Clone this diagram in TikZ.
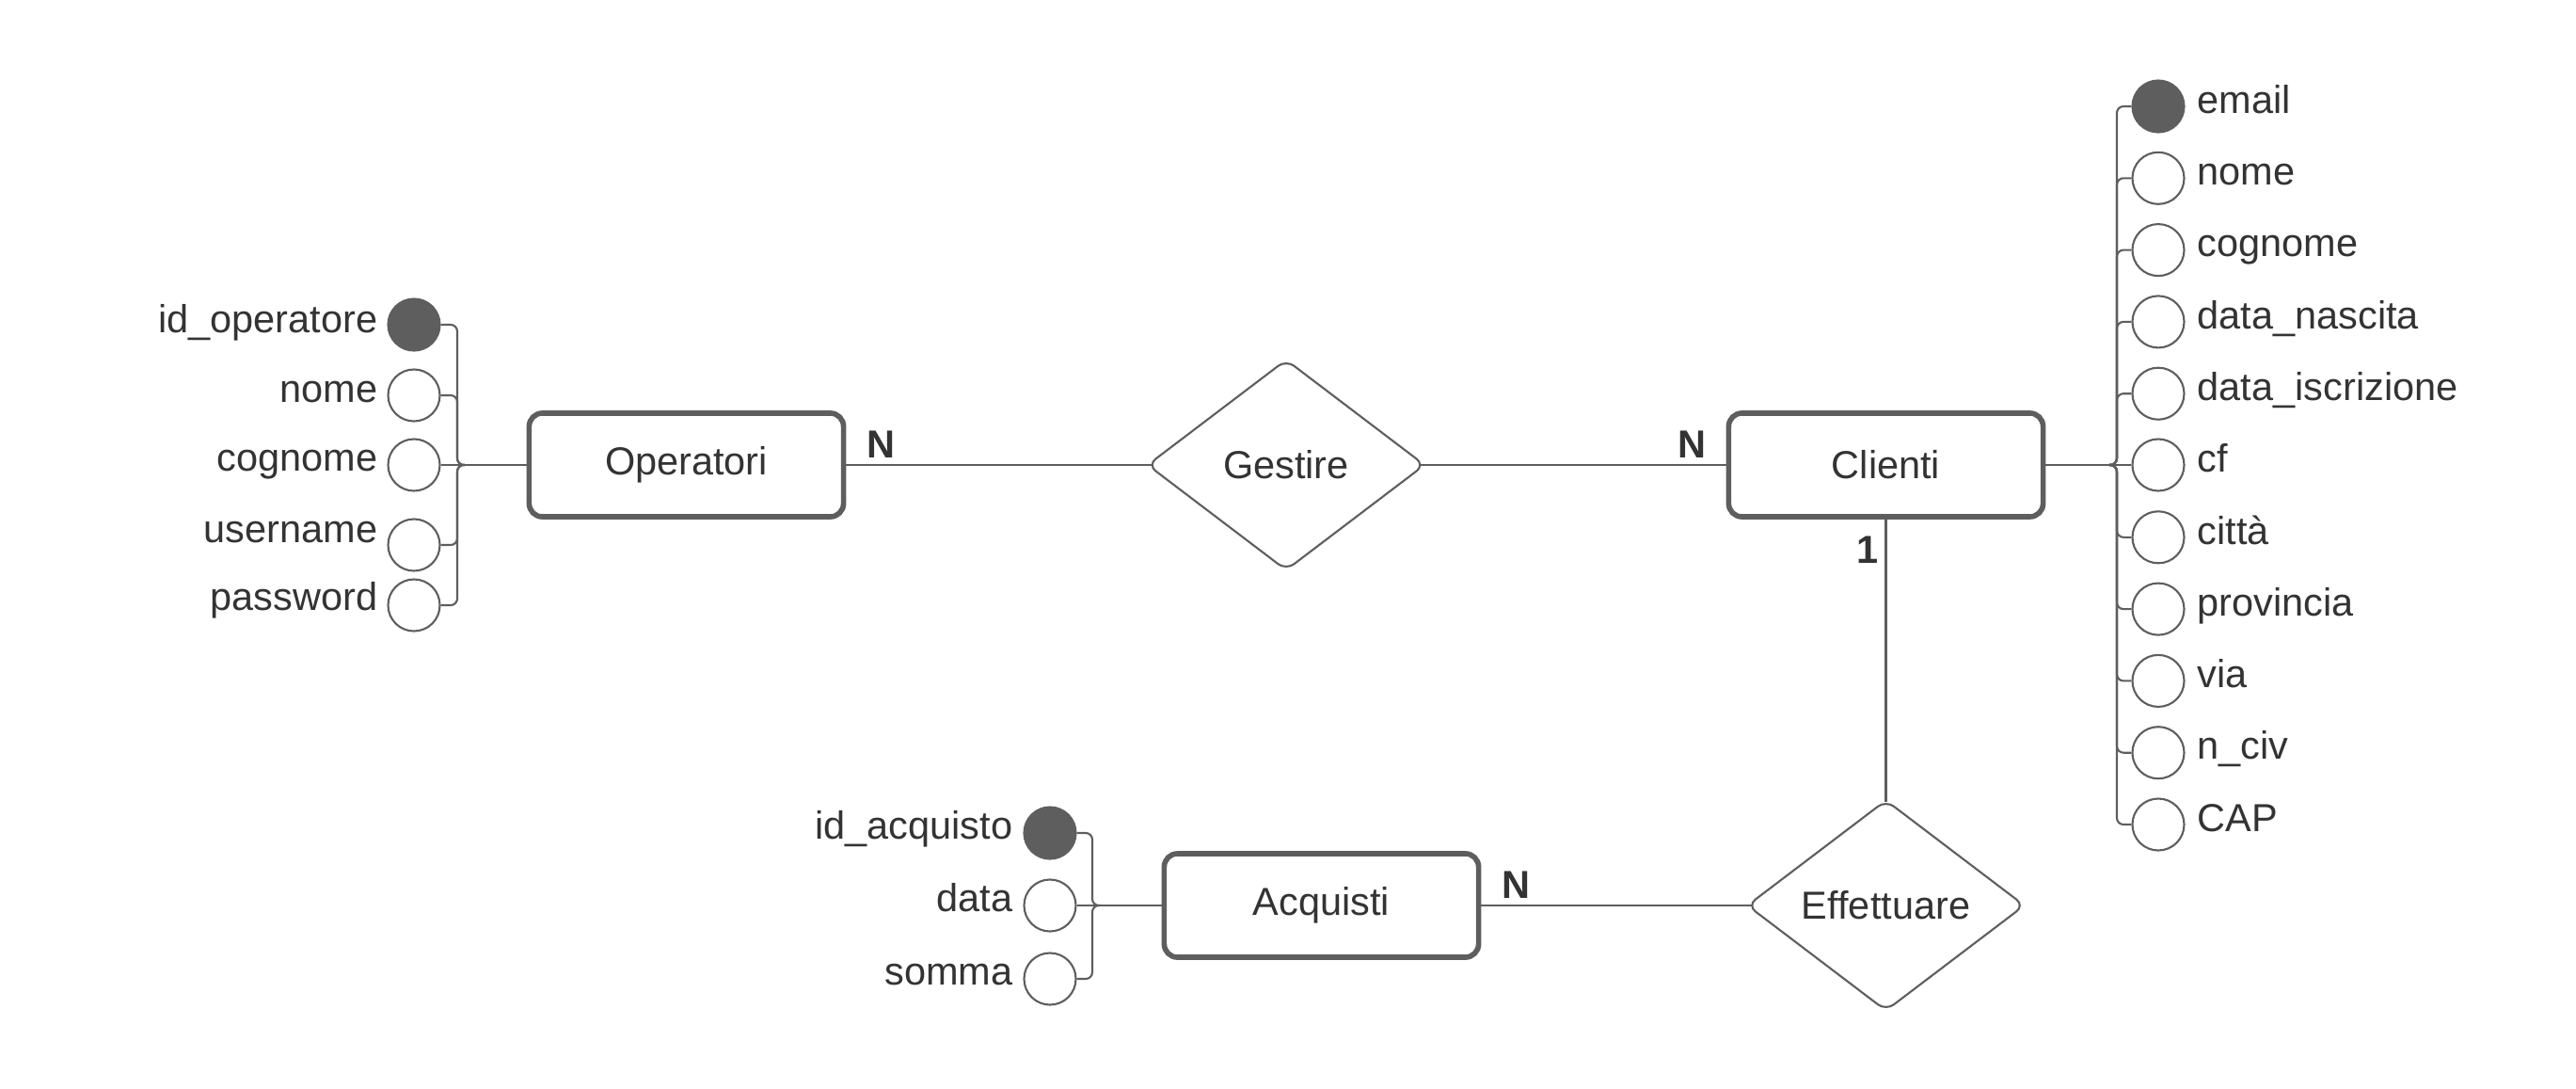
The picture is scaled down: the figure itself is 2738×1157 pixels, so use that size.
\documentclass[tikz,border=0pt]{standalone}
\usepackage{fontspec}
\setmainfont{Liberation Sans}
\usetikzlibrary{shapes.geometric}
\definecolor{lineGray}{HTML}{5E5E5E}
\definecolor{textGray}{HTML}{333333}
\tikzset{
	entity/.style={draw=lineGray, line width=1.6pt, rounded corners=4pt, minimum width=3.34cm, minimum height=1.10cm, inner sep=0, text=textGray, font=\fontsize{11.8}{14}\selectfont},
	relation/.style={diamond, aspect=1.33, draw=lineGray, line width=0.6pt, rounded corners=3pt, minimum width=2.95cm, minimum height=2.24cm, inner sep=0, text=textGray, font=\fontsize{11.8}{14}\selectfont},
	attr/.style={circle, draw=lineGray, line width=0.6pt, minimum size=0.55cm, inner sep=0},
	pkattr/.style={attr, fill=lineGray},
	attrtext/.style={inner sep=0, text=textGray, font=\fontsize{11.8}{14}\selectfont},
	card/.style={inner sep=0, text=textGray, font=\fontsize{11.8}{14}\selectfont\bfseries},
	conn/.style={draw=lineGray, line width=0.6pt},
	attrlink/.style={conn, rounded corners=0.07cm}
}
\begin{document}
\begin{tikzpicture}[x=0.01cm,y=-0.01cm]
		\useasboundingbox (0,0) rectangle (2738,1157);
		% entities and relations
		\node[entity] (opr) at (729.5,494) {Operatori};
		\node[entity] (clienti) at (2004.5,494) {Clienti};
		\node[entity] (acquisti) at (1404.5,962) {Acquisti};
		\node[relation] (gestire) at (1367,494) {Gestire};
		\node[relation] (effettuare) at (2004.5,962) {Effettuare};
		\draw[conn, shorten >=-1.6pt] (opr) -- (gestire);
		\draw[conn, shorten <=-1.6pt] (gestire) -- (clienti);
		\draw[conn, shorten >=-1pt] (clienti) -- (effettuare);
		\draw[conn, shorten <=-1.6pt] (effettuare) -- (acquisti);
		\node[card] (cOpr) at (936,472) {N};
		\node[card] (cCli) at (1798,472) {N};
		\node[card] (cCliEff) at (1985,584) {1};
		\node[card] (cAcq) at (1611,940) {N};
		% Operatori attributes
		\node[pkattr] (oId) at (440,345) {};
		\node[attr] (oNome) at (440,420) {};
		\node[attr] (oCogn) at (440,494) {};
		\node[attr] (oUser) at (440,579) {};
		\node[attr] (oPass) at (440,643) {};
		\node[attrtext, anchor=mid east] (oIdT) at (402,344) {id\_operatore};
		\node[attrtext, anchor=mid east] (oNomeT) at (402,418) {nome};
		\node[attrtext, anchor=mid east] (oCognT) at (402,491) {cognome};
		\node[attrtext, anchor=mid east] (oUserT) at (402,567) {username};
		\node[attrtext, anchor=mid east] (oPassT) at (402,639) {password};
		\coordinate (oTip) at (494,494);
		\draw[attrlink] (oId.east) -| (486,494) -- (oTip);
		\draw[attrlink] (oNome.east) -| (486,494) -- (oTip);
		\draw[attrlink] (oUser.east) -| (486,494) -- (oTip);
		\draw[attrlink] (oPass.east) -| (486,494) -- (oTip);
		\draw[conn] (oCogn.east) -- (oTip);
		\draw[conn] (oTip) -- (opr);
		% Clienti attributes
		\node[pkattr] (cEmail) at (2294,113) {};
		\node[attr] (cNome) at (2294,189.3) {};
		\node[attr] (cCogn) at (2294,265.6) {};
		\node[attr] (cNasc) at (2294,341.9) {};
		\node[attr] (cIscr) at (2294,418.2) {};
		\node[attr] (cCf) at (2294,494) {};
		\node[attr] (cCitta) at (2294,570.8) {};
		\node[attr] (cProv) at (2294,647.1) {};
		\node[attr] (cVia) at (2294,723.4) {};
		\node[attr] (cCiv) at (2294,799.7) {};
		\node[attr] (cCap) at (2294,876) {};
		\node[attrtext, anchor=mid west] (cEmailT) at (2335,111) {email};
		\node[attrtext, anchor=mid west] (cNomeT) at (2335,187.3) {nome};
		\node[attrtext, anchor=mid west] (cCognT) at (2335,263.6) {cognome};
		\node[attrtext, anchor=mid west] (cNascT) at (2335,339.9) {data\_nascita};
		\node[attrtext, anchor=mid west] (cIscrT) at (2335,416.2) {data\_iscrizione};
		\node[attrtext, anchor=mid west] (cCfT) at (2335,492.5) {cf};
		\node[attrtext, anchor=mid west] (cCittaT) at (2335,568.8) {città};
		\node[attrtext, anchor=mid west] (cProvT) at (2335,645.1) {provincia};
		\node[attrtext, anchor=mid west] (cViaT) at (2335,721.4) {via};
		\node[attrtext, anchor=mid west] (cCivT) at (2335,797.7) {n\_civ};
		\node[attrtext, anchor=mid west] (cCapT) at (2335,874) {CAP};
		\coordinate (cTip) at (2242,494);
		\draw[attrlink] (cEmail.west) -| (2250,494) -- (cTip);
		\draw[attrlink] (cNome.west) -| (2250,494) -- (cTip);
		\draw[attrlink] (cCogn.west) -| (2250,494) -- (cTip);
		\draw[attrlink] (cNasc.west) -| (2250,494) -- (cTip);
		\draw[attrlink] (cIscr.west) -| (2250,494) -- (cTip);
		\draw[attrlink] (cCitta.west) -| (2250,494) -- (cTip);
		\draw[attrlink] (cProv.west) -| (2250,494) -- (cTip);
		\draw[attrlink] (cVia.west) -| (2250,494) -- (cTip);
		\draw[attrlink] (cCiv.west) -| (2250,494) -- (cTip);
		\draw[attrlink] (cCap.west) -| (2250,494) -- (cTip);
		\draw[conn] (cCf.west) -- (cTip);
		\draw[conn] (cTip) -- (clienti);
		% Acquisti attributes
		\node[pkattr] (aId) at (1116,885) {};
		\node[attr] (aData) at (1116,962) {};
		\node[attr] (aSomma) at (1116,1040) {};
		\node[attrtext, anchor=mid east] (aIdT) at (1077,882) {id\_acquisto};
		\node[attrtext, anchor=mid east] (aDataT) at (1077,959) {data};
		\node[attrtext, anchor=mid east] (aSommaT) at (1077,1037) {somma};
		\coordinate (aTip) at (1169,962);
		\draw[attrlink] (aId.east) -| (1161,962) -- (aTip);
		\draw[attrlink] (aSomma.east) -| (1161,962) -- (aTip);
		\draw[conn] (aData.east) -- (aTip);
		\draw[conn] (aTip) -- (acquisti);
\end{tikzpicture}
\end{document}
